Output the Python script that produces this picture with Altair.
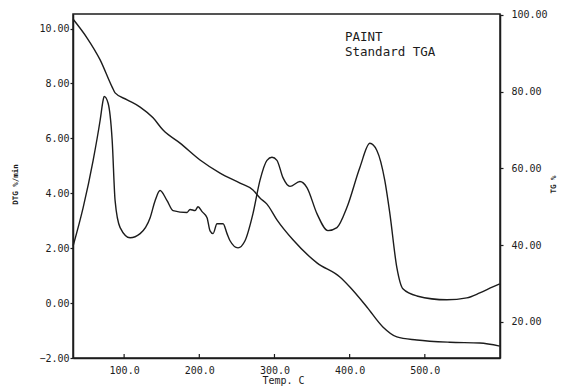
import altair as alt
import pandas as pd

# DTG curve (%/min) vs temperature (C)
dtg_temp = [32.2, 45.5, 58.8, 68.1, 72.1, 73.4, 78.7, 84.1, 88.0, 94.7,
            108.0, 121.3, 134.6, 141.2, 147.8, 157.1, 165.1, 183.7, 187.7, 194.4,
            198.3, 203.7, 210.3, 214.3, 218.3, 223.6, 231.6, 236.9, 240.9, 251.5,
            260.8, 271.4, 280.7, 290.0, 296.7, 303.3, 311.3, 320.6, 333.9, 343.2,
            356.5, 371.1, 383.1, 396.3, 413.6, 426.9, 436.2, 446.8, 453.5, 462.8,
            470.8, 489.4, 529.2, 555.8, 573.1, 590.4, 599.7]
dtg_vals = [2.09, 3.48, 5.20, 6.66, 7.39, 7.53, 7.28, 5.93, 3.73, 2.75,
            2.38, 2.53, 3.11, 3.73, 4.10, 3.73, 3.37, 3.30, 3.41, 3.37,
            3.51, 3.33, 3.11, 2.63, 2.53, 2.89, 2.89, 2.53, 2.27, 2.01,
            2.27, 3.26, 4.47, 5.20, 5.31, 5.20, 4.57, 4.25, 4.43, 4.21,
            3.26, 2.64, 2.75, 3.48, 4.94, 5.82, 5.56, 4.46, 3.26, 1.29,
            0.52, 0.26, 0.12, 0.19, 0.37, 0.59, 0.70]

# TG curve (%) vs temperature (C)
tg_temp = [32.2, 50.8, 68.1, 84.1, 88.0, 104.0, 121.3, 138.5, 151.8, 174.4,
           201.0, 227.6, 254.2, 271.4, 280.7, 290.0, 303.3, 324.6, 356.5, 387.0,
           400.3, 422.9, 444.2, 462.8, 489.4, 533.2, 573.1, 599.7]
tg_vals = [98.9, 94.0, 88.3, 81.2, 79.7, 77.9, 76.0, 73.2, 70.0, 66.6,
           62.2, 58.8, 56.2, 54.4, 52.3, 50.7, 46.6, 41.4, 35.4, 31.7,
           29.1, 23.9, 18.7, 16.1, 15.3, 14.7, 14.5, 13.7]

x_ticks = [100, 200, 300, 400, 500]
dtg_ticks = [-2, 0, 2, 4, 6, 8, 10]
tg_ticks = [20, 40, 60, 80, 100]
annotation_lines = ["PAINT", "Standard TGA"]

FONT = "DejaVu Sans Mono"
INK = "#1c1c1c"

dtg_df = pd.DataFrame({"T": dtg_temp, "v": dtg_vals})
tg_df = pd.DataFrame({"T": tg_temp, "v": tg_vals})
tick_df = pd.DataFrame({"T": x_ticks})
ann_df = pd.DataFrame({"label": ["\n".join(annotation_lines)]})

x_enc = alt.X(
    "T:Q",
    scale=alt.Scale(domain=[32, 600], nice=False, zero=False),
    axis=alt.Axis(
        values=x_ticks, format=".1f", title="Temp. C", ticks=False,
        labelFont=FONT, labelFontSize=10, labelColor=INK, labelPadding=7,
        domainColor=INK, domainWidth=1.5, grid=False,
        titleFont=FONT, titleFontSize=10, titleFontWeight="normal", titleColor=INK,
        titleX=210, titleY=22, titleBaseline="middle", titleAlign="center",
    ),
)

dtg_line = alt.Chart(dtg_df).mark_line(
    color=INK, strokeWidth=1.4, interpolate="monotone"
).encode(
    x=x_enc,
    y=alt.Y(
        "v:Q",
        scale=alt.Scale(domain=[-2, 10.53], nice=False, zero=False),
        axis=alt.Axis(
            orient="left", values=dtg_ticks, format=".2f", title="DTG %/min",
            tickSize=3, tickColor=INK, tickWidth=1.2,
            labelFont=FONT, labelFontSize=10, labelColor=INK, labelPadding=1,
            domainColor=INK, domainWidth=1.5, grid=False,
            titleFont=FONT, titleFontSize=7.5, titleFontWeight="bold", titleColor=INK,
            titleAngle=270, titleX=-58, titleY=170,
            titleBaseline="middle", titleAlign="center",
        ),
    ),
)

x_inner_ticks = alt.Chart(tick_df).mark_rule(color=INK, strokeWidth=1.2).encode(
    x=x_enc,
    y=alt.value(344),
    y2=alt.value(340),
)

annotation = alt.Chart(ann_df).mark_text(
    align="left", baseline="top", font=FONT, fontSize=12.5, color=INK,
    lineBreak="\n", lineHeight=15,
).encode(
    x=alt.value(272),
    y=alt.value(17),
    text="label:N",
)

tg_line = alt.Chart(tg_df).mark_line(
    color=INK, strokeWidth=1.4, interpolate="monotone"
).encode(
    x=x_enc,
    y=alt.Y(
        "v:Q",
        scale=alt.Scale(domain=[10.6, 100.26], nice=False, zero=False),
        axis=alt.Axis(
            orient="right", values=tg_ticks, format=".2f", title="TG %",
            tickSize=3, tickColor=INK, tickWidth=1.2,
            labelFont=FONT, labelFontSize=10, labelColor=INK, labelPadding=8,
            domainColor=INK, domainWidth=1.5, grid=False,
            titleFont=FONT, titleFontSize=7.5, titleFontWeight="bold", titleColor=INK,
            titleAngle=270, titleX=53, titleY=170,
            titleBaseline="middle", titleAlign="center",
        ),
    ),
)

left = alt.layer(dtg_line, x_inner_ticks, annotation)

chart = alt.layer(left, tg_line).resolve_scale(y="independent").properties(
    width=427,
    height=344,
    autosize=alt.AutoSizeParams(type="none"),
    padding={"left": 73, "top": 14, "right": 62, "bottom": 29},
    background="white",
).configure_view(
    stroke=INK, strokeWidth=1.5
)

chart.save("out.html", embed_options={"renderer": "svg", "actions": False})
